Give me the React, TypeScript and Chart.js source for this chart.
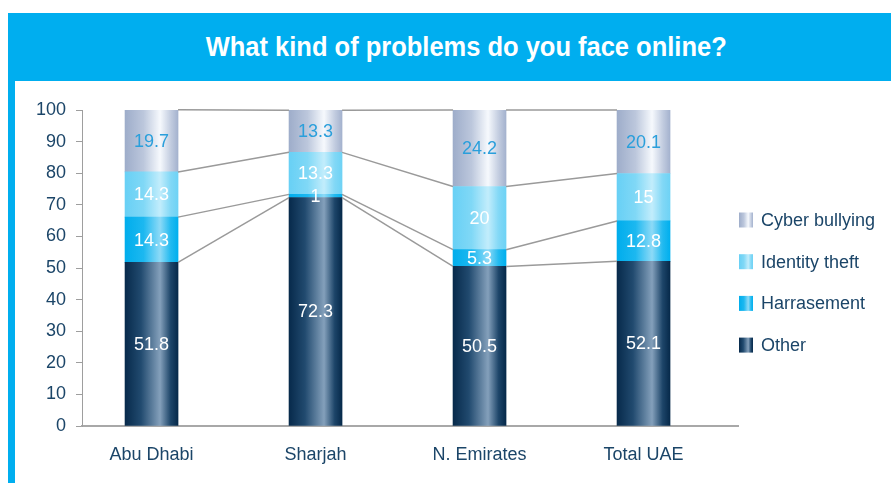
import React, { useEffect, useRef } from "react";
import { Chart, registerables } from "chart.js";

Chart.register(...registerables);

// ---------- data ----------
const TITLE = "What kind of problems do you face online?";
const CATEGORIES = ["Abu Dhabi", "Sharjah", "N. Emirates", "Total UAE"];
const OTHER = [51.8, 72.3, 50.5, 52.1];
const HARRASEMENT = [14.3, 1, 5.3, 12.8];
const IDENTITY_THEFT = [14.3, 13.3, 20, 15];
const CYBER_BULLYING = [19.7, 13.3, 24.2, 20.1];
const SERIES_NAMES = ["Other", "Harrasement", "Identity theft", "Cyber bullying"];
const SERIES_VALUES = [OTHER, HARRASEMENT, IDENTITY_THEFT, CYBER_BULLYING];
const Y_MIN = 0;
const Y_MAX = 100;
const Y_STEP = 10;

// ---------- style ----------
const FONT = "'Liberation Sans', Arial, Helvetica, sans-serif";
const NAVY = "#1b4568";
const BLUE = "#00aeef";
const AXIS_GRAY = "#9e9e9e";
const LINE_GRAY = "#9a9a9a";
const BAR_W = 53;
const X_MIN = -0.424;
const X_MAX = 3.576;

type Stop = [number, string];
const GRADIENTS: Stop[][] = [
  [[0, "#072a4b"], [0.3, "#214a6f"], [0.66, "#84a0bb"], [0.86, "#1d4569"], [1, "#06294a"]],
  [[0, "#00adec"], [0.35, "#1cb8f0"], [0.66, "#8ddaf7"], [0.86, "#22baf0"], [1, "#00afee"]],
  [[0, "#68d0f5"], [0.35, "#80d8f6"], [0.66, "#c2edfc"], [0.86, "#82d8f6"], [1, "#6ed2f5"]],
  [[0, "#9eadca"], [0.35, "#bcc7dc"], [0.66, "#f6f9fd"], [0.86, "#c3cde0"], [1, "#a4b2ce"]],
];
const LABEL_COLORS = ["#ffffff", "#ffffff", "#ffffff", "#2a9fdb"];

function makeGradient(ctx: CanvasRenderingContext2D, x0: number, x1: number, stops: Stop[]) {
  const g = ctx.createLinearGradient(x0, 0, x1, 0);
  stops.forEach(([o, c]) => g.addColorStop(o, c));
  return g;
}

const connectorPlugin = {
  id: "connectors",
  afterDatasetsDraw(chart: any) {
    const ctx = chart.ctx as CanvasRenderingContext2D;
    ctx.save();
    ctx.strokeStyle = LINE_GRAY;
    ctx.lineWidth = 1.5;
    chart.data.datasets.forEach((_ds: any, i: number) => {
      const meta = chart.getDatasetMeta(i);
      for (let j = 0; j < meta.data.length - 1; j++) {
        const a = meta.data[j].getProps(["x", "y", "width"], true);
        const b = meta.data[j + 1].getProps(["x", "y", "width"], true);
        ctx.beginPath();
        ctx.moveTo(a.x + a.width / 2, a.y);
        ctx.lineTo(b.x - b.width / 2, b.y);
        ctx.stroke();
      }
    });
    ctx.restore();
  },
};

const valueLabelPlugin = {
  id: "valueLabels",
  afterDatasetsDraw(chart: any) {
    const ctx = chart.ctx as CanvasRenderingContext2D;
    ctx.save();
    ctx.font = `18px ${FONT}`;
    ctx.textAlign = "center";
    ctx.textBaseline = "middle";
    chart.data.datasets.forEach((ds: any, i: number) => {
      const meta = chart.getDatasetMeta(i);
      ctx.fillStyle = LABEL_COLORS[i];
      meta.data.forEach((bar: any, j: number) => {
        const p = bar.getProps(["x", "y", "base"], true);
        ctx.fillText(String(ds.data[j].y), p.x, (p.y + p.base) / 2 + 1);
      });
    });
    ctx.restore();
  },
};

const sideLegendPlugin = {
  id: "sideLegend",
  afterDraw(chart: any) {
    const ctx = chart.ctx as CanvasRenderingContext2D;
    const area = chart.chartArea;
    const left = area.right + 1;
    const firstY = area.top + 110;
    const gap = 41.7;
    ctx.save();
    ctx.font = `18px ${FONT}`;
    ctx.textBaseline = "middle";
    ctx.textAlign = "left";
    const order = chart.data.datasets.map((_d: any, i: number) => i).reverse();
    order.forEach((di: number, row: number) => {
      const cy = firstY + row * gap;
      ctx.fillStyle = makeGradient(ctx, left, left + 14, GRADIENTS[di]);
      ctx.fillRect(left, cy - 7.5, 14, 15);
      ctx.fillStyle = NAVY;
      ctx.fillText(chart.data.datasets[di].label, left + 22, cy + 1);
    });
    ctx.restore();
  },
};

export default function App() {
  const canvasRef = useRef<HTMLCanvasElement | null>(null);

  useEffect(() => {
    const canvas = canvasRef.current;
    if (!canvas) return;
    const datasets = SERIES_NAMES.map((name, i) => ({
      label: name,
      data: SERIES_VALUES[i].map((v, j) => ({ x: j, y: v })),
      barThickness: BAR_W,
      borderWidth: 0,
      backgroundColor: (c: any) => {
        const chart = c.chart;
        const xs = chart.scales?.x;
        if (c.type !== "data" || !xs || !chart.chartArea) return GRADIENTS[i][2][1];
        const cx = xs.getPixelForValue(c.raw.x);
        return makeGradient(chart.ctx, cx - BAR_W / 2, cx + BAR_W / 2, GRADIENTS[i]);
      },
    }));

    const chart = new Chart(canvas, {
      type: "bar",
      data: { datasets: datasets as any },
      options: {
        animation: false,
        responsive: true,
        maintainAspectRatio: false,
        layout: { padding: { left: 19, right: 153, top: 29, bottom: 17 } },
        plugins: {
          legend: { display: false },
          tooltip: { enabled: false },
          title: { display: false },
        },
        scales: {
          x: {
            type: "linear",
            stacked: true,
            offset: false,
            min: X_MIN,
            max: X_MAX,
            grid: { display: false, drawTicks: false, offset: false },
            border: { display: true, color: "#a8a8a8", width: 2 },
            afterBuildTicks: (s: any) => {
              s.ticks = CATEGORIES.map((_c, i) => ({ value: i }));
            },
            ticks: {
              autoSkip: false,
              maxRotation: 0,
              padding: 18,
              color: NAVY,
              font: { size: 18, family: FONT },
              callback: (v: any) => CATEGORIES[v as number] ?? "",
            },
            afterFit: (s: any) => {
              s.height = 40;
            },
          },
          y: {
            stacked: true,
            min: Y_MIN,
            max: Y_MAX,
            grid: { drawOnChartArea: false, drawTicks: true, tickLength: 6, color: AXIS_GRAY, lineWidth: 1 },
            border: { display: true, color: AXIS_GRAY, width: 1 },
            ticks: {
              stepSize: Y_STEP,
              padding: 10,
              color: NAVY,
              font: { size: 18, family: FONT },
            },
            afterFit: (s: any) => {
              s.width = 48;
            },
          },
        },
      } as any,
      plugins: [connectorPlugin, valueLabelPlugin, sideLegendPlugin],
    });
    return () => chart.destroy();
  }, []);

  return (
    <div style={{ position: "fixed", left: 8, top: 13, width: 883, height: 470, background: "#fff" }}>
      <div
        style={{
          height: 68,
          background: BLUE,
          color: "#fff",
          display: "flex",
          alignItems: "center",
          justifyContent: "center",
          paddingLeft: 33,
          boxSizing: "border-box",
        }}
      >
        <span
          style={{
            fontFamily: FONT,
            fontWeight: "bold",
            fontSize: 28,
            display: "inline-block",
            transform: "scaleX(0.91)",
            whiteSpace: "nowrap",
          }}
        >
          {TITLE}
        </span>
      </div>
      <div style={{ borderLeft: `7px solid ${BLUE}`, height: 402, width: 876 }}>
        <div style={{ position: "relative", width: 876, height: 402 }}>
          <canvas ref={canvasRef} />
        </div>
      </div>
    </div>
  );
}
